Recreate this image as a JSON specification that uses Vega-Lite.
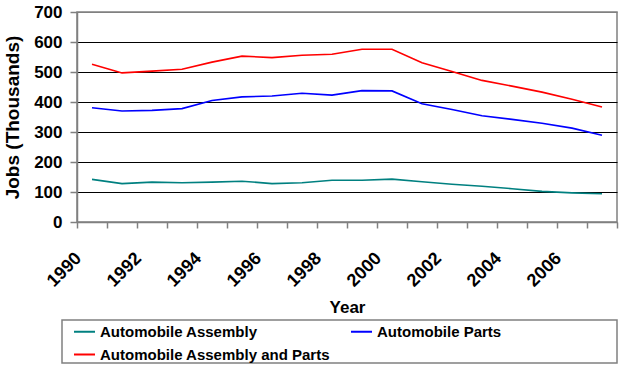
{
  "$schema": "https://vega.github.io/schema/vega-lite/v6.json",
  "width": 540,
  "height": 210,
  "autosize": {"type": "none"},
  "padding": {"left": 77, "top": 12, "right": 9, "bottom": 156},
  "background": "white",
  "config": {
    "font": "Liberation Sans",
    "view": {"stroke": "#808080", "strokeWidth": 1.5}
  },
  "data": {
    "values": [
      {"year": 1990, "series": "Automobile Assembly", "jobs": 142},
      {"year": 1991, "series": "Automobile Assembly", "jobs": 128},
      {"year": 1992, "series": "Automobile Assembly", "jobs": 133},
      {"year": 1993, "series": "Automobile Assembly", "jobs": 131},
      {"year": 1994, "series": "Automobile Assembly", "jobs": 133},
      {"year": 1995, "series": "Automobile Assembly", "jobs": 136},
      {"year": 1996, "series": "Automobile Assembly", "jobs": 128},
      {"year": 1997, "series": "Automobile Assembly", "jobs": 131},
      {"year": 1998, "series": "Automobile Assembly", "jobs": 139},
      {"year": 1999, "series": "Automobile Assembly", "jobs": 139},
      {"year": 2000, "series": "Automobile Assembly", "jobs": 143},
      {"year": 2001, "series": "Automobile Assembly", "jobs": 134},
      {"year": 2002, "series": "Automobile Assembly", "jobs": 126},
      {"year": 2003, "series": "Automobile Assembly", "jobs": 119},
      {"year": 2004, "series": "Automobile Assembly", "jobs": 111},
      {"year": 2005, "series": "Automobile Assembly", "jobs": 102},
      {"year": 2006, "series": "Automobile Assembly", "jobs": 97},
      {"year": 2007, "series": "Automobile Assembly", "jobs": 94},
      {"year": 1990, "series": "Automobile Parts", "jobs": 381},
      {"year": 1991, "series": "Automobile Parts", "jobs": 370},
      {"year": 1992, "series": "Automobile Parts", "jobs": 372},
      {"year": 1993, "series": "Automobile Parts", "jobs": 378},
      {"year": 1994, "series": "Automobile Parts", "jobs": 405},
      {"year": 1995, "series": "Automobile Parts", "jobs": 417},
      {"year": 1996, "series": "Automobile Parts", "jobs": 420},
      {"year": 1997, "series": "Automobile Parts", "jobs": 429},
      {"year": 1998, "series": "Automobile Parts", "jobs": 423},
      {"year": 1999, "series": "Automobile Parts", "jobs": 438},
      {"year": 2000, "series": "Automobile Parts", "jobs": 437},
      {"year": 2001, "series": "Automobile Parts", "jobs": 394},
      {"year": 2002, "series": "Automobile Parts", "jobs": 375},
      {"year": 2003, "series": "Automobile Parts", "jobs": 354},
      {"year": 2004, "series": "Automobile Parts", "jobs": 342},
      {"year": 2005, "series": "Automobile Parts", "jobs": 329},
      {"year": 2006, "series": "Automobile Parts", "jobs": 313},
      {"year": 2007, "series": "Automobile Parts", "jobs": 289},
      {"year": 1990, "series": "Automobile Assembly and Parts", "jobs": 526},
      {"year": 1991, "series": "Automobile Assembly and Parts", "jobs": 497},
      {"year": 1992, "series": "Automobile Assembly and Parts", "jobs": 503},
      {"year": 1993, "series": "Automobile Assembly and Parts", "jobs": 509},
      {"year": 1994, "series": "Automobile Assembly and Parts", "jobs": 533},
      {"year": 1995, "series": "Automobile Assembly and Parts", "jobs": 553},
      {"year": 1996, "series": "Automobile Assembly and Parts", "jobs": 548},
      {"year": 1997, "series": "Automobile Assembly and Parts", "jobs": 556},
      {"year": 1998, "series": "Automobile Assembly and Parts", "jobs": 559},
      {"year": 1999, "series": "Automobile Assembly and Parts", "jobs": 576},
      {"year": 2000, "series": "Automobile Assembly and Parts", "jobs": 576},
      {"year": 2001, "series": "Automobile Assembly and Parts", "jobs": 531},
      {"year": 2002, "series": "Automobile Assembly and Parts", "jobs": 502},
      {"year": 2003, "series": "Automobile Assembly and Parts", "jobs": 472},
      {"year": 2004, "series": "Automobile Assembly and Parts", "jobs": 453},
      {"year": 2005, "series": "Automobile Assembly and Parts", "jobs": 433},
      {"year": 2006, "series": "Automobile Assembly and Parts", "jobs": 409},
      {"year": 2007, "series": "Automobile Assembly and Parts", "jobs": 383}
    ]
  },
  "mark": {"type": "line", "strokeWidth": 1.6},
  "encoding": {
    "x": {
      "field": "year",
      "type": "ordinal",
      "bandPosition": 0.5,
      "scale": {"type": "band", "paddingInner": 0, "paddingOuter": 0},
      "axis": {
        "title": "Year",
        "titleFont": "Liberation Sans",
        "titleFontSize": 17,
        "titleFontWeight": "bold",
        "titleColor": "black",
        "titlePadding": 9,
        "tickBand": "extent",
        "domainColor": "#808080",
        "domainWidth": 1.5,
        "tickColor": "#808080",
        "tickWidth": 1.5,
        "tickSize": 6,
        "grid": false,
        "labelAngle": -45,
        "labelAlign": "right",
        "labelBaseline": "top",
        "labelOffset": -20,
        "labelPadding": 21,
        "labelFontSize": 18,
        "labelFontWeight": "bold",
        "labelColor": "black",
        "labelExpr": "datum.value % 2 == 0 ? datum.label : ''"
      }
    },
    "y": {
      "field": "jobs",
      "type": "quantitative",
      "scale": {"domain": [0, 700], "nice": false, "zero": true},
      "axis": {
        "title": "Jobs (Thousands)",
        "titleFontSize": 19,
        "titleFontWeight": "bold",
        "titleColor": "black",
        "titlePadding": 11,
        "values": [0, 100, 200, 300, 400, 500, 600, 700],
        "domainColor": "#808080",
        "domainWidth": 1.5,
        "tickColor": "#808080",
        "tickWidth": 1.5,
        "tickSize": 7,
        "labelPadding": 8,
        "labelFontSize": 17,
        "labelFontWeight": "bold",
        "labelColor": "black",
        "grid": true,
        "gridColor": {"condition": {"test": "datum.value == 700 || datum.value == 0", "value": "#808080"}, "value": "#000000"},
        "gridWidth": 1.2,
        "gridOpacity": 1
      }
    },
    "color": {
      "field": "series",
      "type": "nominal",
      "scale": {
        "domain": ["Automobile Assembly", "Automobile Parts", "Automobile Assembly and Parts"],
        "range": ["#008080", "#0000FF", "#FF0000"]
      },
      "legend": {
        "title": " ",
        "titleOrient": "right",
        "titlePadding": 116,
        "titleFontSize": 2,
        "orient": "none",
        "legendX": -15,
        "legendY": 308,
        "columns": 2,
        "values": ["Automobile Assembly", "Automobile Assembly and Parts", "Automobile Parts"],
        "gridAlign": "all",
        "columnPadding": 8,
        "rowPadding": 3,
        "padding": 0,
        "strokeColor": "#808080",
        "fillColor": "white",
        "symbolType": "stroke",
        "symbolSize": 441,
        "symbolStrokeWidth": 2,
        "symbolOffset": 11,
        "labelOffset": 4,
        "labelFontSize": 15,
        "labelFontWeight": "bold",
        "labelColor": "black",
        "labelLimit": 400,
        "encode": {"legend": {"update": {"strokeWidth": {"value": 1.5}}}}
      }
    }
  }
}
